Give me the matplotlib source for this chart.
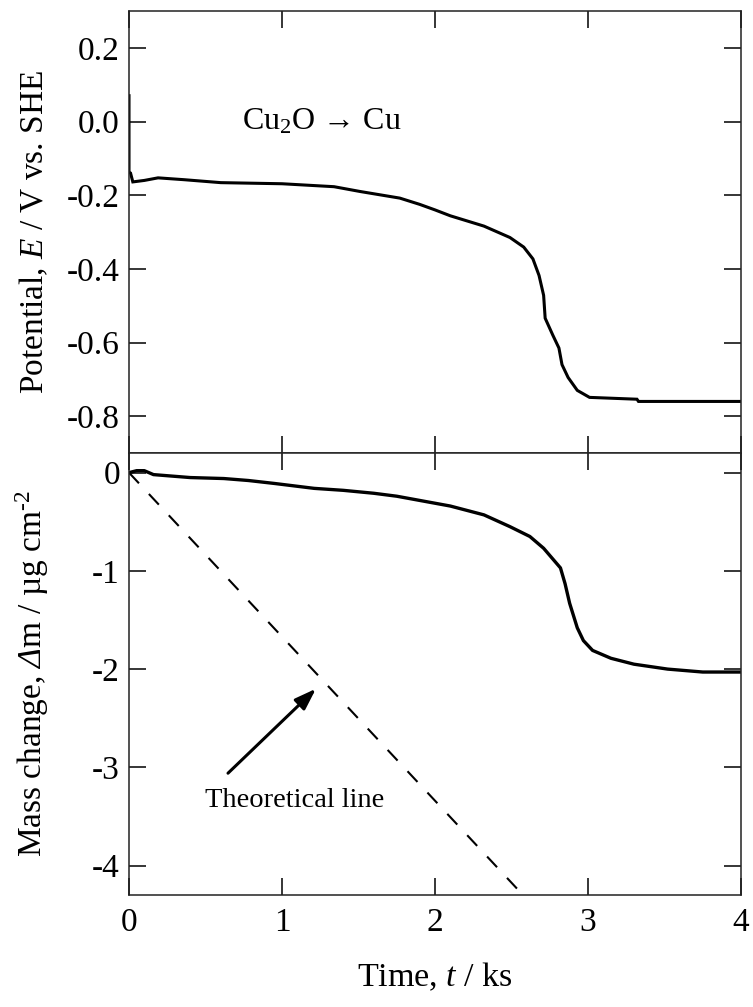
import matplotlib
matplotlib.use("Agg")
import matplotlib.pyplot as plt

# ---------------- data ----------------
t_pot = [0.000, 0.000, 0.010, 0.025, 0.10, 0.19, 0.36, 0.60, 1.00, 1.34, 1.51,
         1.77, 1.90, 2.00, 2.10, 2.32, 2.49, 2.58, 2.64, 2.68, 2.71, 2.72,
         2.77, 2.81, 2.83, 2.87, 2.93, 3.01, 3.32, 3.33, 4.00]
E_pot = [0.07, -0.137, -0.14, -0.164, -0.160, -0.153, -0.158, -0.166, -0.169,
         -0.177, -0.19, -0.208, -0.225, -0.24, -0.256, -0.284, -0.315, -0.341,
         -0.373, -0.418, -0.472, -0.534, -0.580, -0.615, -0.66, -0.695, -0.73,
         -0.749, -0.754, -0.76, -0.76]

t_mass = [0.00, 0.05, 0.10, 0.16, 0.40, 0.62, 0.78, 0.95, 1.21, 1.40, 1.60,
          1.75, 2.10, 2.32, 2.49, 2.62, 2.71, 2.82, 2.85, 2.88, 2.93, 2.97,
          3.03, 3.15, 3.30, 3.52, 3.75, 4.00]
dm_mass = [0.00, 0.02, 0.02, -0.02, -0.05, -0.06, -0.08, -0.11, -0.16, -0.18,
           -0.21, -0.24, -0.34, -0.43, -0.55, -0.65, -0.77, -0.97, -1.13, -1.33,
           -1.58, -1.71, -1.81, -1.89, -1.95, -2.00, -2.03, -2.03]

t_theory = [0.0, 4.0]
dm_theory = [0.0, -6.68]

x_ticks = [0, 1, 2, 3, 4]
E_ticks = [0.2, 0.0, -0.2, -0.4, -0.6, -0.8]
E_ticklabels = ["0.2", "0.0", "-0.2", "-0.4", "-0.6", "-0.8"]
m_ticks = [0, -1, -2, -3, -4]
m_ticklabels = ["0", "-1", "-2", "-3", "-4"]

# ---------------- style ----------------
plt.rcParams['font.family'] = ['Liberation Serif', 'DejaVu Serif']
plt.rcParams['mathtext.fontset'] = 'custom'
plt.rcParams['mathtext.rm'] = 'Liberation Serif'
plt.rcParams['mathtext.it'] = 'Liberation Serif:italic'
plt.rcParams['mathtext.bf'] = 'Liberation Serif:bold'
plt.rcParams['mathtext.sf'] = 'Liberation Serif:italic'
plt.rcParams['axes.unicode_minus'] = False

FS = 24

fig = plt.figure(figsize=(7.53, 10.07), dpi=100)
left, right = 129 / 753, 741 / 753
top, bottom = 1 - 11 / 1007, 1 - 895 / 1007
mid = (top + bottom) / 2
ax1 = fig.add_axes([left, mid, right - left, top - mid])
ax2 = fig.add_axes([left, bottom, right - left, mid - bottom], sharex=ax1)

for ax in (ax1, ax2):
    for sp in ax.spines.values():
        sp.set_linewidth(1.1)
        sp.set_color('#222222')
    ax.tick_params(direction='in', top=True, right=True, length=12.2,
                   width=1.1, labelsize=FS, pad=6.5)
    ax.tick_params(axis='x', pad=9)
    ax.set_xlim(0, 4)
    ax.set_xticks(x_ticks)

# top panel
ax1.plot(t_pot, E_pot, color='black', lw=2.2, solid_joinstyle='miter')
ax1.set_ylim(-0.9, 0.3)
ax1.set_yticks(E_ticks)
ax1.set_yticklabels(E_ticklabels)
ax1.tick_params(axis='x', labelbottom=False)
ax1.set_ylabel(r'Potential, $E$ / V vs. SHE', fontsize=FS)
ax1.yaxis.set_label_coords(-0.128, 0.5)
ax1.text(0.74, 0.0, 'Cu$_2$O → Cu', fontsize=23, ha='left', va='center')

# bottom panel
ax2.plot(t_mass, dm_mass, color='black', lw=2.4)
ax2.plot(t_theory, dm_theory, color='black', lw=1.5, dashes=(7, 7))
ax2.set_ylim(-4.3, 0.2)
ax2.set_yticks(m_ticks)
ax2.set_yticklabels(m_ticklabels)
ax2.set_xticklabels([str(v) for v in x_ticks])
ax2.set_ylabel(r'Mass change, $\mathsf{Δ}$m / µg cm$^{\text{-}2}$', fontsize=FS)
ax2.yaxis.set_label_coords(-0.128, 0.5)
ax2.set_xlabel(r'Time, $t$ / ks', fontsize=24.5)
ax2.xaxis.set_label_coords(0.5, -0.15)
ax2.annotate('', xy=(1.222, -2.20), xytext=(0.647, -3.06),
             arrowprops=dict(arrowstyle='-|>,head_length=1.3,head_width=0.45',
                             color='black', lw=2.2, shrinkA=0, shrinkB=0))
ax2.text(0.497, -3.34, 'Theoretical line', fontsize=20.5, ha='left', va='center')

fig.savefig('out.png', dpi=100)
